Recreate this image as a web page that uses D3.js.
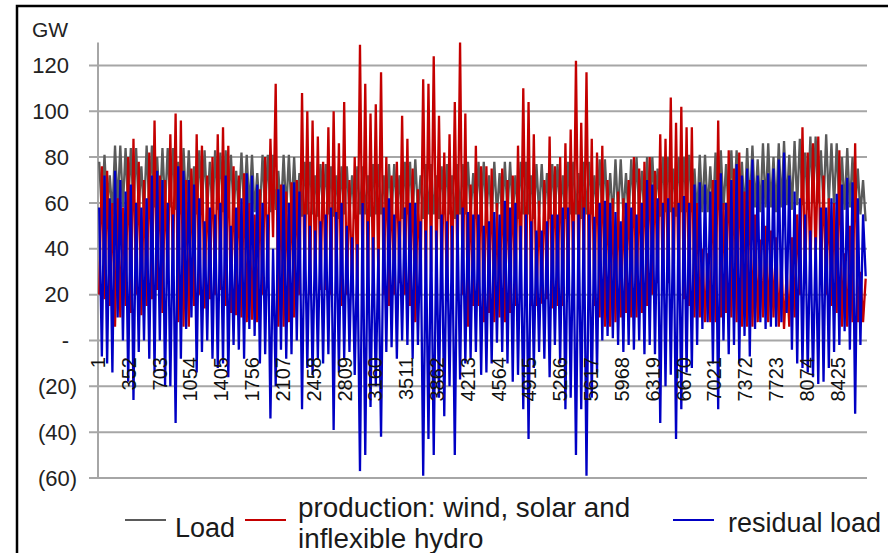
<!DOCTYPE html>
<html lang="en">
<head>
<meta charset="UTF-8">
<title>Load, production and residual load</title>
<script src="https://d3js.org/d3.v7.min.js"></script>
<style>
    body {
        margin: 0;
        background: #fff;
    }
    svg {
        display: block;
        font-family: "Liberation Sans", Arial, sans-serif;
    }
    .grid line {
        stroke: #a6a6a6;
        stroke-width: 2px;
    }
    .y-label { font-size: 22px; fill: #222; }
    .x-label { font-size: 20px; fill: #111; }
    .legend text { font-size: 27px; fill: #1a1a1a; }
    .series {
        fill: none;
        stroke-width: 2.3px;
    }
</style>
</head>
<body>
<div id="chart"></div>
<script>
    // hourly values summarised per 60-hour column: high and low
    const hoursPerColumn = 60;

    const loadHi = [
        78,81,72,85,85,84,84,84,76,85, 85,80,84,84,84,78,84,83,76,83,
        83,78,83,82,83,81,74,82,81,81, 73,81,81,81,74,81,81,80,73,78,
        78,72,77,77,76,72,76,76,72,76, 76,72,77,77,72,77,77,72,78,78,
        79,72,77,77,72,76,77,72,77,77, 78,73,78,78,72,78,73,78,78,72,
        78,78,72,77,77,73,77,77,72,78, 78,73,78,78,72,79,79,73,79,79,
        73,79,80,74,80,80,75,80,80,75, 80,80,81,75,81,81,76,82,83,77,
        83,83,78,84,85,79,86,86,80,86, 87,81,87,88,82,89,89,83,90,86,
        86,80,84,80,75,70
    ];
    const loadLo = [
        55,56,55,58,58,57,58,58,55,58, 58,56,58,58,57,55,58,57,55,57,
        57,55,57,56,56,56,55,57,57,56, 54,56,56,57,55,56,56,55,54,55,
        55,54,55,55,54,53,55,55,53,55, 55,54,55,55,53,55,55,53,55,55,
        56,53,55,55,53,55,55,53,55,55, 55,53,55,55,53,55,53,55,55,53,
        55,55,53,55,55,53,55,55,53,55, 55,53,55,55,53,55,55,53,55,55,
        53,56,56,54,56,56,54,56,56,54, 56,56,56,54,56,56,54,57,57,55,
        57,57,55,58,58,56,58,58,56,58, 59,57,59,59,57,60,60,58,60,59,
        58,57,58,57,55,52
    ];
    const prodHi = [
        76,74,60,62,58,80,88,78,70,82, 96,72,70,90,99,96,70,75,90,85,
        72,80,90,93,85,76,72,73,60,55, 66,80,88,112,68,65,69,70,108,100,
        96,89,78,93,100,86,104,70,80,129, 112,99,103,117,80,72,78,98,88,75,
        66,114,112,124,98,82,90,104,130,99, 68,85,76,76,75,60,75,70,72,85,
        110,104,90,61,70,89,76,80,86,92, 122,95,117,88,82,85,70,62,65,62,
        70,80,75,78,80,74,90,88,106,95, 102,93,93,60,40,38,70,96,60,83,
        75,82,65,70,55,44,50,48,45,35, 30,45,55,93,82,86,89,72,62,60,
        83,38,50,86,30,27
    ];
    const prodLo = [
        20,18,15,6,10,15,12,20,11,15, 18,22,12,25,30,8,6,6,15,20,
        14,18,20,22,15,12,11,10,8,9, 8,20,25,45,6,6,8,10,20,25,
        20,25,22,22,20,25,15,20,22,20, 25,20,25,25,20,15,20,25,20,15,
        8,25,25,30,30,25,20,25,30,20, 6,15,15,8,12,8,10,8,12,15,
        25,20,15,15,16,18,14,15,15,20, 25,25,30,20,15,10,6,6,8,10,
        12,10,10,12,15,20,25,22,25,20, 22,18,15,10,10,8,8,8,10,12,
        10,8,6,6,6,8,10,8,10,6, 5,6,10,20,25,30,35,25,20,15,
        12,6,6,8,8,8
    ];
    const residHi = [
        58,72,62,74,70,65,68,60,58,62, 72,74,70,60,55,76,74,70,68,62,
        52,58,55,60,72,50,58,62,73,72, 68,60,55,40,66,68,60,69,65,55,
        50,48,52,55,58,56,60,50,45,42, 60,52,45,40,58,62,55,52,58,60,
        60,52,48,50,48,55,52,50,55,58, 56,55,55,50,52,56,55,61,58,60,
        50,55,52,48,48,52,55,55,58,58, 52,55,58,55,54,60,61,60,56,52,
        60,58,55,60,70,68,62,60,62,58, 60,63,60,68,69,68,65,70,73,60,
        70,77,72,75,79,72,70,73,75,79, 82,72,65,62,55,48,45,58,58,62,
        64,68,71,69,62,55
    ];
    const residLo = [
        -7,-10,-14,10,0,-18,-26,-5,0,-8, -14,0,-20,-20,-36,-8,5,10,-14,-5,
        0,-8,-12,-10,-16,-2,-4,-8,5,2, -10,-6,-34,-20,-4,-8,-6,0,-30,-12,
        -15,-8,-10,-6,-39,-14,-8,-5,-15,-57, -50,-29,-20,-42,-5,-3,-8,0,-2,-8,
        -2,-59,-43,-50,-25,-33,-20,-50,-17,-10, -8,-5,-15,-14,-10,-1,-5,-10,-18,-15,
        -30,-43,-12,-5,-8,-16,-2,-10,-30,-25, -50,-30,-59,-25,-14,0,2,1,-2,-5,
        -2,-4,0,-6,-2,-6,-36,-20,-15,-43, -30,-14,-12,-2,5,8,-10,-30,0,-6,
        -2,-10,2,-7,5,8,5,6,6,8, 12,-4,-10,-12,-14,-16,-19,-18,-12,-5,
        -2,4,-4,-32,-2,28
    ];

    const xTicks = [1, 352, 703, 1054, 1405, 1756, 2107, 2458, 2809, 3160, 3511, 3862, 4213,
        4564, 4915, 5266, 5617, 5968, 6319, 6670, 7021, 7372, 7723, 8074, 8425];
    const yTicks = [-60, -40, -20, 0, 20, 40, 60, 80, 100, 120];

    const seriesInfo = [
        { name: 'Load', color: '#5a5a5a' },
        { name: 'production', color: '#c40000' },
        { name: 'residual load', color: '#0000c4' }
    ];

    const width = 888;
    const height = 553;
    const plot = { left: 98, right: 867, top: 42.5, bottom: 478, gridStart: 89 };

    const svg = d3.select('#chart')
        .append('svg')
        .attr('width', width)
        .attr('height', height);

    const x = d3.scaleLinear().domain([1, 8760]).range([plot.left, plot.right]);
    const y = d3.scaleLinear().domain([-60, 130]).range([plot.bottom, plot.top]);

    // outer frame (left and top edge only)
    svg.append('path')
        .attr('d', `M17,${height} V6 H${width}`)
        .attr('fill', 'none')
        .attr('stroke', '#000')
        .attr('stroke-width', 2.5);

    // gridlines
    svg.append('g')
        .attr('class', 'grid')
        .selectAll('line')
        .data(yTicks)
        .enter().append('line')
        .attr('x1', plot.gridStart)
        .attr('x2', plot.right)
        .attr('y1', d => y(d))
        .attr('y2', d => y(d));

    // value axis line
    svg.append('line')
        .attr('x1', x(1)).attr('x2', x(1))
        .attr('y1', y(130)).attr('y2', y(-60))
        .attr('stroke', '#a6a6a6')
        .attr('stroke-width', 2);

    const fmt = v => v < 0 ? `(${-v})` : (v === 0 ? '-' : `${v}`);

    svg.selectAll('.y-label')
        .data(yTicks)
        .enter().append('text')
        .attr('class', 'y-label')
        .attr('x', d => d < 0 ? 77 : 69)
        .attr('y', d => y(d))
        .attr('dy', '0.35em')
        .attr('text-anchor', 'end')
        .text(fmt);

    svg.append('text')
        .attr('class', 'y-label')
        .attr('x', 32)
        .attr('y', 37)
        .style('font-size', '21px')
        .text('GW');

    function buildSeries(hi, lo, hiFirst) {
        const pts = [];
        hi.forEach((h, c) => {
            const start = c * hoursPerColumn;
            pts.push({ hour: start + 15, value: hiFirst ? h : lo[c] });
            pts.push({ hour: start + 45, value: hiFirst ? lo[c] : h });
        });
        return pts;
    }

    const allSeries = [
        buildSeries(loadHi, loadLo, true),
        buildSeries(prodHi, prodLo, false),
        buildSeries(residHi, residLo, true)
    ];

    const line = d3.line()
        .x(d => x(d.hour))
        .y(d => y(d.value));

    allSeries.forEach((data, i) => {
        svg.append('path')
            .datum(data)
            .attr('class', 'series')
            .attr('stroke', seriesInfo[i].color)
            .attr('d', line);
    });

    // category labels sit on top of the lines
    svg.selectAll('.x-label')
        .data(xTicks)
        .enter().append('text')
        .attr('class', 'x-label')
        .attr('transform', d => `translate(${x(d)},357) rotate(-90)`)
        .attr('dy', '0.35em')
        .attr('text-anchor', 'end')
        .text(d => d);

    // legend
    const legend = svg.append('g').attr('class', 'legend');
    const legendItems = [
        { color: seriesInfo[0].color, x1: 125, x2: 166, tx: 175, lines: ['Load'], base: 537, size: 27 },
        { color: seriesInfo[1].color, x1: 245, x2: 286, tx: 298, lines: ['production: wind, solar and', 'inflexible hydro'], base: 517, size: 27.8 },
        { color: seriesInfo[2].color, x1: 673, x2: 714, tx: 728, lines: ['residual load'], base: 532, size: 27 }
    ];
    legendItems.forEach(item => {
        legend.append('line')
            .attr('x1', item.x1).attr('x2', item.x2)
            .attr('y1', 520).attr('y2', 520)
            .attr('stroke', item.color)
            .attr('stroke-width', 2);
        const t = legend.append('text')
            .attr('x', item.tx)
            .attr('y', item.base)
            .style('font-size', item.size + 'px');
        item.lines.forEach((s, k) => {
            t.append('tspan')
                .attr('x', item.tx)
                .attr('dy', k === 0 ? 0 : 31)
                .text(s);
        });
    });
</script>
</body>
</html>
